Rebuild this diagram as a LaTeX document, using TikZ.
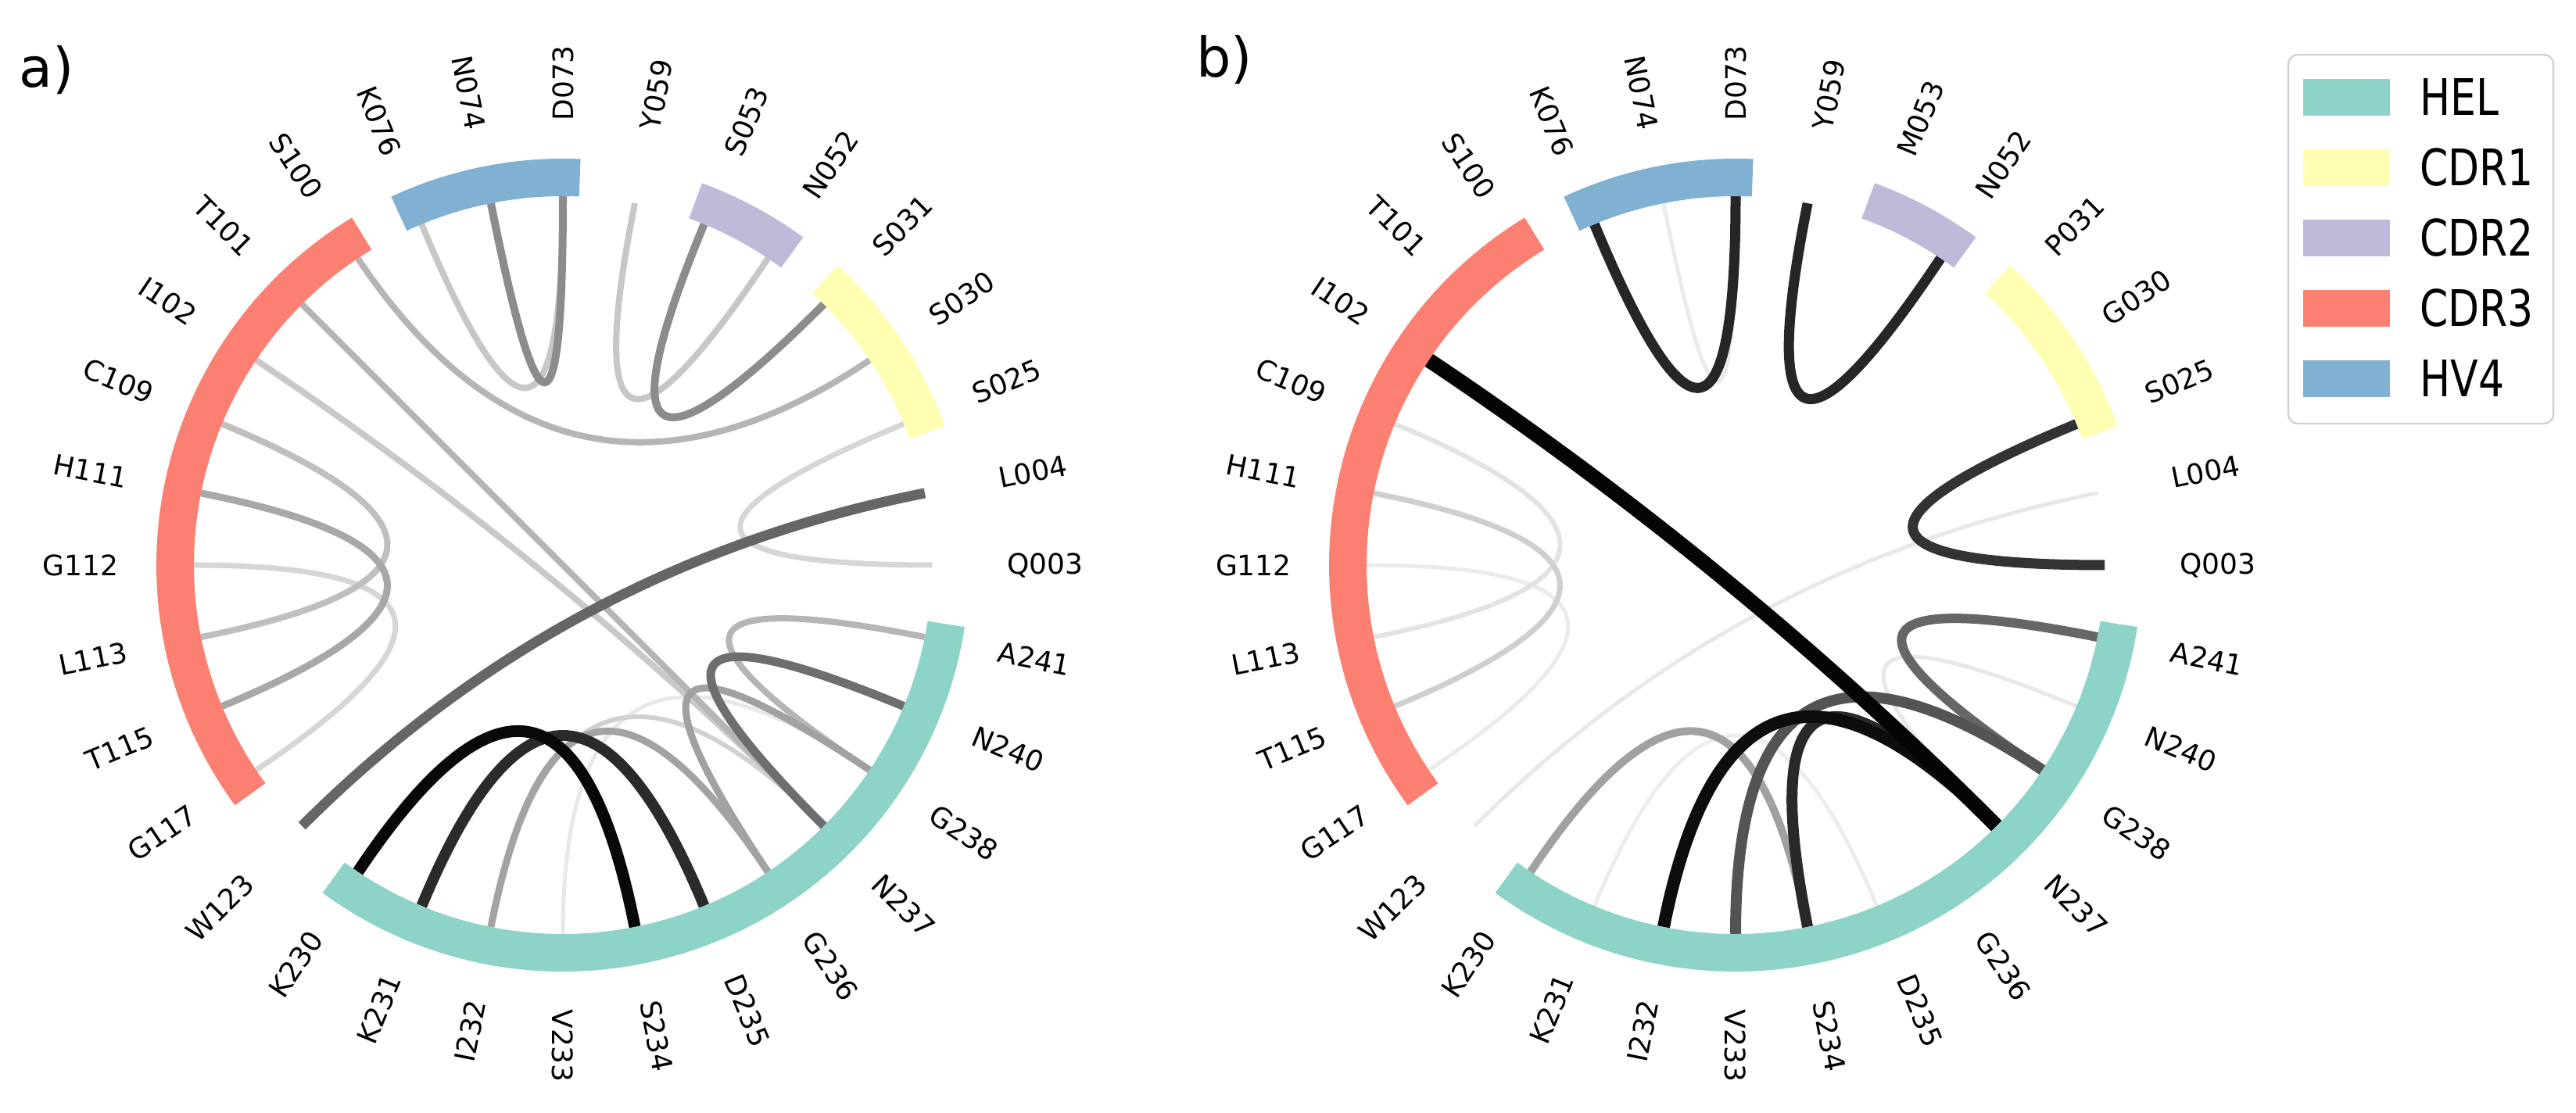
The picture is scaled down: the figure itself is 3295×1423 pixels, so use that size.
\documentclass[tikz,border=0pt]{standalone}
\usepackage{fontspec}
\setmainfont{DejaVu Sans}
\definecolor{hel}{HTML}{8DD3C7}
\definecolor{cdra}{HTML}{FFFFB3}
\definecolor{cdrb}{HTML}{BEBADA}
\definecolor{cdrc}{HTML}{FB8072}
\definecolor{hvf}{HTML}{80B1D3}
\newcommand\respanel[3]{%
  \begin{scope}[shift={(#2,700)}]
    \coordinate (#1c) at (0,0);
    \foreach \i in {0,...,31}{%
      \coordinate (#1\i) at (\i*11.25:472);
      \coordinate (#1i\i) at (\i*11.25:157.33);
    }
    \foreach \lab [count=\j from 0] in {#3}{%
      \pgfmathsetmacro\ang{\j*11.25}%
      \ifnum\j>8 \ifnum\j<24
        \pgfmathsetmacro\rot{\ang-180}\def\anc{east}%
      \else
        \let\rot\ang\def\anc{west}%
      \fi\else
        \let\rot\ang\def\anc{west}%
      \fi
      \node[reslabel, rotate=\rot, anchor=\anc] (#1l\j) at (\ang:568) {\lab};
    }
  \end{scope}
}
\newcommand\resarcs[1]{%
  \begin{scope}[shift={(#1,700)}]
    \draw[resarc, hel]  (233.75:496) arc[start angle=233.75, end angle=351.25, radius=496];
    \draw[resarc, cdra] (20:496) arc[start angle=20, end angle=47.5, radius=496];
    \draw[resarc, cdrb] (53.75:496) arc[start angle=53.75, end angle=70, radius=496];
    \draw[resarc, cdrc] (121.25:496) arc[start angle=121.25, end angle=216.25, radius=496];
    \draw[resarc, hvf]  (87.5:496) arc[start angle=87.5, end angle=115, radius=496];
  \end{scope}
}
\begin{document}
\begin{tikzpicture}[x=0.5pt,y=0.5pt,
  resarc/.style={line width=24pt},
  reslabel/.style={inner sep=0pt, font=\fontsize{18}{18}\selectfont},
  legsw/.style={inner sep=0pt, minimum width=55.5pt, minimum height=23.5pt},
  legtx/.style={inner sep=0pt, anchor=west, font=\fontsize{26}{26}\selectfont},
  panellab/.style={inner sep=0pt, font=\fontsize{35}{35}\selectfont}]
\useasboundingbox (0,0) rectangle (3295,1423);
\fill[white] (0,0) rectangle (3295,1423);

% panel a
\respanel{a}{720}{Q003,L004,S025,S030,S031,N052,S053,Y059,D073,N074,K076,S100,T101,I102,C109,H111,G112,L113,T115,G117,W123,K230,K231,I232,V233,S234,D235,G236,N237,G238,N240,A241}
\foreach \p/\q/\k/\w in {24/29/9/5, 23/28/18/6, 2/0/16/7, 16/19/16/7, 13/28/21/8,
  7/5/22/8, 10/8/22/8, 14/17/25/8, 11/3/29/8, 12/28/29/8, 31/29/29/8,
  15/18/34/9, 29/27/37/9, 23/27/36/9, 9/8/45/10, 6/4/45/10, 30/28/57/11,
  1/20/60/13, 22/26/83/14, 21/25/97/15}
  \draw[line width=\w*0.5pt, draw=black!\k] (a\p) .. controls (ai\p) and (ai\q) .. (a\q);
\resarcs{720}
\node[panellab] (alab) at (60,1333) {a)};

% panel b
\respanel{b}{2220}{Q003,L004,S025,G030,P031,N052,M053,Y059,D073,N074,K076,S100,T101,I102,C109,H111,G112,L113,T115,G117,W123,K230,K231,I232,V233,S234,D235,G236,N237,G238,N240,A241}
\foreach \p/\q/\k/\w in {22/26/7/5, 9/8/8/5, 16/19/8/5, 1/20/9/5, 30/28/9/5,
  14/17/11/6, 15/18/19/7, 21/25/37/10, 31/29/60/12, 24/29/67/14,
  25/28/84/14, 2/0/80/13, 10/8/85/13, 7/5/85/13, 23/28/95/16, 13/28/98/19}
  \draw[line width=\w*0.5pt, draw=black!\k] (b\p) .. controls (bi\p) and (bi\q) .. (b\q);
\resarcs{2220}
\node[panellab] (blab) at (1566,1346) {b)};

% legend
\node[draw=black!18, line width=1.2pt, rounded corners=6pt, minimum width=169.5pt, minimum height=236pt, inner sep=0pt] (legend) at (3096.5,1117) {};
\foreach \c/\t [count=\k from 0] in {hel/HEL, cdra/CDR1, cdrb/CDR2, cdrc/CDR3, hvf/HV4}{
  \node[legsw, fill=\c] (sw\k) at (3001.5,1298.7-90*\k) {};
  \node[legtx] (tx\k) at (3095,1298.7-90*\k) {\scalebox{1}[1.24]{\t}};
}
\end{tikzpicture}
\end{document}
